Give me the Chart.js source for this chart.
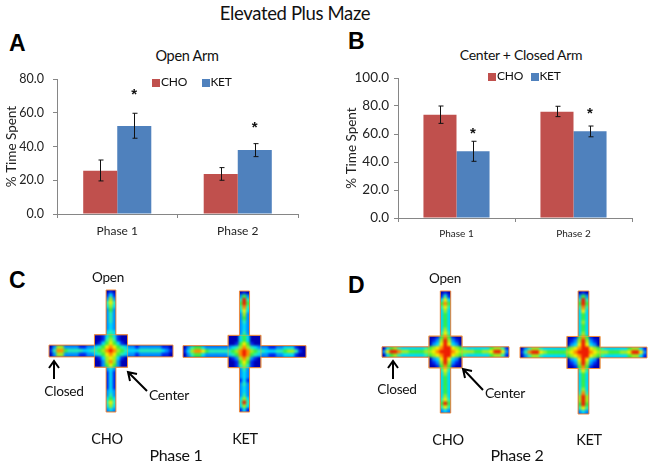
<!DOCTYPE html>
<html>
<head>
<meta charset="utf-8">
<title>Elevated Plus Maze</title>
<script src="https://cdn.jsdelivr.net/npm/chart.js@4/dist/chart.umd.min.js"></script>
<style>
  html, body { margin: 0; padding: 0; background: #fff; }
  #page { position: relative; width: 654px; height: 466px; overflow: hidden; font-family: Lato, sans-serif; color: #111; }
  #page canvas, #page svg { position: absolute; }
  .t { position: absolute; white-space: nowrap; line-height: 1; letter-spacing: -0.02em; transform: translate(-50%, -50%); }
  .letter { font-family: "Liberation Sans", sans-serif; font-weight: bold; font-size: 23px; color: #000; }
  .swatch { position: absolute; width: 8px; height: 8px; }
</style>
</head>
<body>
<div id="page">
  <div class="t" style="left:295px;top:13px;font-size:18.5px">Elevated Plus Maze</div>
  <div class="t letter" style="left:17px;top:43px">A</div>
  <div class="t letter" style="left:356px;top:41px">B</div>
  <div class="t letter" style="left:17px;top:280px">C</div>
  <div class="t letter" style="left:356px;top:285px">D</div>
  <div class="t" style="left:187px;top:56px;font-size:14.5px">Open Arm</div>
  <div class="t" style="left:521px;top:55px;font-size:14px">Center + Closed Arm</div>

  <canvas id="chart-a" width="320" height="190" style="left:0;top:60px"></canvas>
  <canvas id="chart-b" width="324" height="190" style="left:330px;top:60px"></canvas>

  <div class="swatch" style="left:152px;top:79px;background:#C0504D"></div>
  <div class="t" style="left:174px;top:82px;font-size:12px">CHO</div>
  <div class="swatch" style="left:202px;top:79px;background:#4F81BD"></div>
  <div class="t" style="left:221px;top:82px;font-size:12px">KET</div>
  <div class="swatch" style="left:488px;top:73px;background:#C0504D"></div>
  <div class="t" style="left:510px;top:76px;font-size:12px">CHO</div>
  <div class="swatch" style="left:531px;top:73px;background:#4F81BD"></div>
  <div class="t" style="left:550px;top:76px;font-size:12px">KET</div>

  <canvas id="heat-c-cho"></canvas>
  <canvas id="heat-c-ket"></canvas>
  <canvas id="heat-d-cho"></canvas>
  <canvas id="heat-d-ket"></canvas>

  <svg width="654" height="466" style="left:0;top:0" fill="none" stroke="#000" stroke-width="2">
    <path d="M54 379V362M49 368L54 361L59 368"/>
    <path d="M147 391L129 373M130 381L128 372L137 374"/>
    <path d="M393 379V362M388 368L393 361L398 368"/>
    <path d="M483 390L464 370M465 378L463 369L472 371"/>
  </svg>

  <div class="t" style="left:108px;top:278px;font-size:13.5px">Open</div>
  <div class="t" style="left:64px;top:391px;font-size:13.7px">Closed</div>
  <div class="t" style="left:169px;top:395px;font-size:14px">Center</div>
  <div class="t" style="left:107px;top:439px;font-size:14.5px">CHO</div>
  <div class="t" style="left:245px;top:439px;font-size:14.5px">KET</div>
  <div class="t" style="left:176px;top:455px;font-size:16px">Phase 1</div>

  <div class="t" style="left:445px;top:279px;font-size:13.5px">Open</div>
  <div class="t" style="left:397px;top:389px;font-size:13.7px">Closed</div>
  <div class="t" style="left:505px;top:393px;font-size:14px">Center</div>
  <div class="t" style="left:448px;top:440px;font-size:14.5px">CHO</div>
  <div class="t" style="left:589px;top:440px;font-size:14.5px">KET</div>
  <div class="t" style="left:517px;top:455px;font-size:16px">Phase 2</div>
</div>

<script>
const phases = ['Phase 1', 'Phase 2'];

const openCho = [25.7, 23.7];
const openKet = [52.1, 37.9];
const openChoLow = [19.6, 20.0];
const openChoHigh = [32.0, 27.5];
const openKetLow = [44.9, 34.0];
const openKetHigh = [59.7, 41.7];
const openStars = [71.7, 52.3];

const closedCho = [73.8, 75.9];
const closedKet = [47.6, 61.9];
const closedChoLow = [67.6, 72.4];
const closedChoHigh = [80.0, 79.8];
const closedKetLow = [40.5, 58.0];
const closedKetHigh = [54.8, 65.7];
const closedStars = [61.4, 76.0];

// occupancy levels 0-9. 3 chars = vertical arm, 9 = centre, 33 = full row
const mapC1 = [
  '010', '131', '262', '474', '363', '252', '242', '242', '242', '232', '232', '343',
  '001353100', '001464100', '013575310',
  '026622221122' + '345787543' + '221222222110',
  '148854444334' + '456898654' + '333444444321',
  '026622221122' + '345787543' + '221222222110',
  '013676310', '002686200', '002575200',
  '232', '131', '131', '131', '131', '131', '232', '242', '353', '474', '363', '232'
];
const mapC2 = [
  '010', '252', '494', '595', '484', '373', '262', '252', '242', '232', '232', '242',
  '000353000', '000353000', '001575100',
  '024553222222' + '234686432' + '221122333100',
  '136887544444' + '456898654' + '433344566410',
  '024553222222' + '345898543' + '221122333100',
  '012686210', '001575100', '001464100',
  '242', '232', '232', '131', '242', '232', '232', '242', '363', '494', '363', '131'
];
const mapD1 = [
  '010', '141', '373', '585', '474', '363', '353', '353', '353', '353', '363', '474',
  '001585100', '012696210', '023797320',
  '035643333334' + '567899765' + '433333356641',
  '279986655556' + '678999876' + '666556679972',
  '035643333334' + '567899765' + '433333356641',
  '023797320', '012696210', '001585100',
  '474', '363', '353', '353', '353', '353', '353', '363', '474', '595', '474', '232'
];
const mapD2 = [
  '010', '252', '494', '595', '484', '373', '353', '353', '363', '353', '353', '363',
  '001585100', '012696210', '023797320',
  '024664333333' + '567899765' + '433333356631',
  '148997655555' + '678999876' + '665556679972',
  '024664333333' + '567899765' + '433333356631',
  '023797320', '012696210', '001585100',
  '474', '353', '353', '353', '353', '363', '484', '696', '696', '595', '474', '232'
];

const heatColors = ['#0000b4', '#0028f0', '#0090ff', '#00dcf5', '#28f0b4', '#3cf03c', '#a0f01e', '#f5f000', '#ff8c00', '#f01e00'];

const axisColor = '#868686';
const textColor = '#222';

// error bars and the significance stars, placed from the bar elements and the y scale
const errorBars = {
  id: 'errorBars',
  afterDatasetsDraw(chart, args, opts) {
    const { ctx, scales: { y } } = chart;
    ctx.save();
    ctx.strokeStyle = '#111';
    ctx.lineWidth = 1;
    opts.ranges.forEach((range, ds) => {
      chart.getDatasetMeta(ds).data.forEach((bar, i) => {
        const x = Math.round(bar.x) + 0.5;
        const top = y.getPixelForValue(range.high[i]);
        const low = y.getPixelForValue(range.low[i]);
        ctx.beginPath();
        ctx.moveTo(x, top); ctx.lineTo(x, low);
        ctx.moveTo(x - 2, top); ctx.lineTo(x + 3, top);
        ctx.moveTo(x - 2, low); ctx.lineTo(x + 3, low);
        ctx.stroke();
      });
    });
    ctx.fillStyle = '#111';
    ctx.font = 'bold 15px "Liberation Sans"';
    ctx.textAlign = 'center';
    ctx.textBaseline = 'middle';
    chart.getDatasetMeta(1).data.forEach((bar, i) => {
      ctx.fillText('*', bar.x, y.getPixelForValue(opts.stars[i]) + 2);
    });
    ctx.restore();
  }
};

function barChart(id, cho, ket, ranges, stars, yMax, geo) {
  return new Chart(document.getElementById(id), {
    type: 'bar',
    data: {
      labels: phases,
      datasets: [
        { label: 'CHO', data: cho, backgroundColor: '#C0504D' },
        { label: 'KET', data: ket, backgroundColor: '#4F81BD' }
      ]
    },
    plugins: [errorBars],
    options: {
      responsive: false,
      animation: false,
      layout: { padding: { top: geo.top, right: geo.right, left: 0, bottom: 0 } },
      datasets: { bar: { barPercentage: 1, categoryPercentage: 0.565 } },
      plugins: {
        legend: { display: false },
        tooltip: { enabled: false },
        errorBars: { ranges, stars }
      },
      scales: {
        x: {
          grid: { drawOnChartArea: false, color: axisColor, tickLength: 4 },
          border: { color: axisColor },
          ticks: { color: textColor, padding: 6, font: { family: 'Lato', size: geo.xFont } },
          afterFit(scale) { scale.height = geo.xHeight; }
        },
        y: {
          min: 0,
          max: yMax,
          grid: { drawOnChartArea: false, color: axisColor, tickLength: 4 },
          border: { color: axisColor },
          ticks: {
            stepSize: 20,
            color: textColor,
            padding: geo.yPad,
            font: { family: 'Lato', size: geo.yFont },
            callback: v => v.toFixed(1)
          },
          title: {
            display: true,
            text: '% Time Spent',
            color: textColor,
            font: { family: 'Lato', size: 13.5 },
            padding: { top: geo.titlePad, bottom: 0 }
          },
          afterFit(scale) { scale.width = geo.yWidth; }
        }
      }
    }
  });
}

barChart('chart-a', openCho, openKet,
  [{ low: openChoLow, high: openChoHigh }, { low: openKetLow, high: openKetHigh }],
  openStars, 80,
  { top: 19, right: 22, xHeight: 36, xFont: 12, yFont: 12.5, yPad: 9, yWidth: 57, titlePad: 4 });

barChart('chart-b', closedCho, closedKet,
  [{ low: closedChoLow, high: closedChoHigh }, { low: closedKetLow, high: closedKetHigh }],
  closedStars, 100,
  { top: 18, right: 22, xHeight: 32, xFont: 10, yFont: 13.5, yPad: 5, yWidth: 68, titlePad: 14 });

function mapPoints(rows) {
  const pts = [];
  rows.forEach((row, r) => {
    const start = (33 - row.length) / 2;
    [...row].forEach((ch, i) => pts.push({ x: start + i, y: r, v: Number(ch) }));
  });
  return pts;
}

// blur the drawn cells together, cut to the maze shape, then outline it
const mazeShape = {
  id: 'mazeShape',
  afterDatasetsDraw(chart, args, opts) {
    const { ctx, canvas, scales: { x, y } } = chart;
    const px = v => x.getPixelForValue(v);
    const py = v => y.getPixelForValue(v);
    const lo = -0.5, hi = 32.5, m = 16;
    const c = opts.center, a = opts.armV, b = opts.armH;
    const cross = [
      [m - a, lo], [m + a, lo], [m + a, m - c], [m + c, m - c], [m + c, m - b], [hi, m - b],
      [hi, m + b], [m + c, m + b], [m + c, m + c], [m + a, m + c], [m + a, hi], [m - a, hi],
      [m - a, m + c], [m - c, m + c], [m - c, m + b], [lo, m + b], [lo, m - b], [m - c, m - b],
      [m - c, m - c], [m - a, m - c]
    ];
    const tracePath = () => {
      ctx.beginPath();
      cross.forEach((p, i) => i ? ctx.lineTo(px(p[0]), py(p[1])) : ctx.moveTo(px(p[0]), py(p[1])));
      ctx.closePath();
    };
    const copy = document.createElement('canvas');
    copy.width = canvas.width;
    copy.height = canvas.height;
    copy.getContext('2d').drawImage(canvas, 0, 0);
    ctx.save();
    ctx.clearRect(0, 0, canvas.width, canvas.height);
    tracePath();
    ctx.save();
    ctx.clip();
    ctx.fillStyle = heatColors[0];
    ctx.fillRect(0, 0, canvas.width, canvas.height);
    ctx.filter = 'blur(0.9px)';
    ctx.drawImage(copy, 0, 0);
    ctx.restore();
    ctx.strokeStyle = 'rgba(225,170,70,0.55)';
    ctx.lineWidth = 1;
    ctx.strokeRect(px(m - c), py(m - c), px(m + c) - px(m - c), py(m + c) - py(m - c));
    ctx.strokeStyle = '#F08A3C';
    tracePath();
    ctx.stroke();
    ctx.restore();
  }
};

function heatChart(id, rows, box) {
  const canvas = document.getElementById(id);
  canvas.width = box.w + 2;
  canvas.height = box.h + 2;
  canvas.style.left = (box.x - 1) + 'px';
  canvas.style.top = (box.y - 1) + 'px';
  return new Chart(canvas, {
    type: 'scatter',
    data: {
      datasets: [{
        data: mapPoints(rows),
        pointStyle: 'rect',
        pointRadius: 3.1,
        borderWidth: 0,
        clip: false,
        backgroundColor: c => heatColors[c.raw.v]
      }]
    },
    plugins: [mazeShape],
    options: {
      responsive: false,
      animation: false,
      layout: { padding: 1, autoPadding: false },
      plugins: {
        legend: { display: false },
        tooltip: { enabled: false },
        mazeShape: box
      },
      scales: {
        x: { display: false, min: -0.5, max: 32.5 },
        y: { display: false, min: -0.5, max: 32.5, reverse: true }
      }
    }
  });
}

heatChart('heat-c-cho', mapC1, { x: 49, y: 290, w: 124, h: 122, center: 4.4, armV: 1.3, armH: 1.6 });
heatChart('heat-c-ket', mapC2, { x: 183, y: 291, w: 123, h: 121, center: 4.4, armV: 1.35, armH: 1.6 });
heatChart('heat-d-cho', mapD1, { x: 382, y: 291, w: 127, h: 122, center: 4.3, armV: 1.35, armH: 1.4 });
heatChart('heat-d-ket', mapD2, { x: 520, y: 291, w: 127, h: 123, center: 4.3, armV: 1.4, armH: 1.45 });
</script>
</body>
</html>
